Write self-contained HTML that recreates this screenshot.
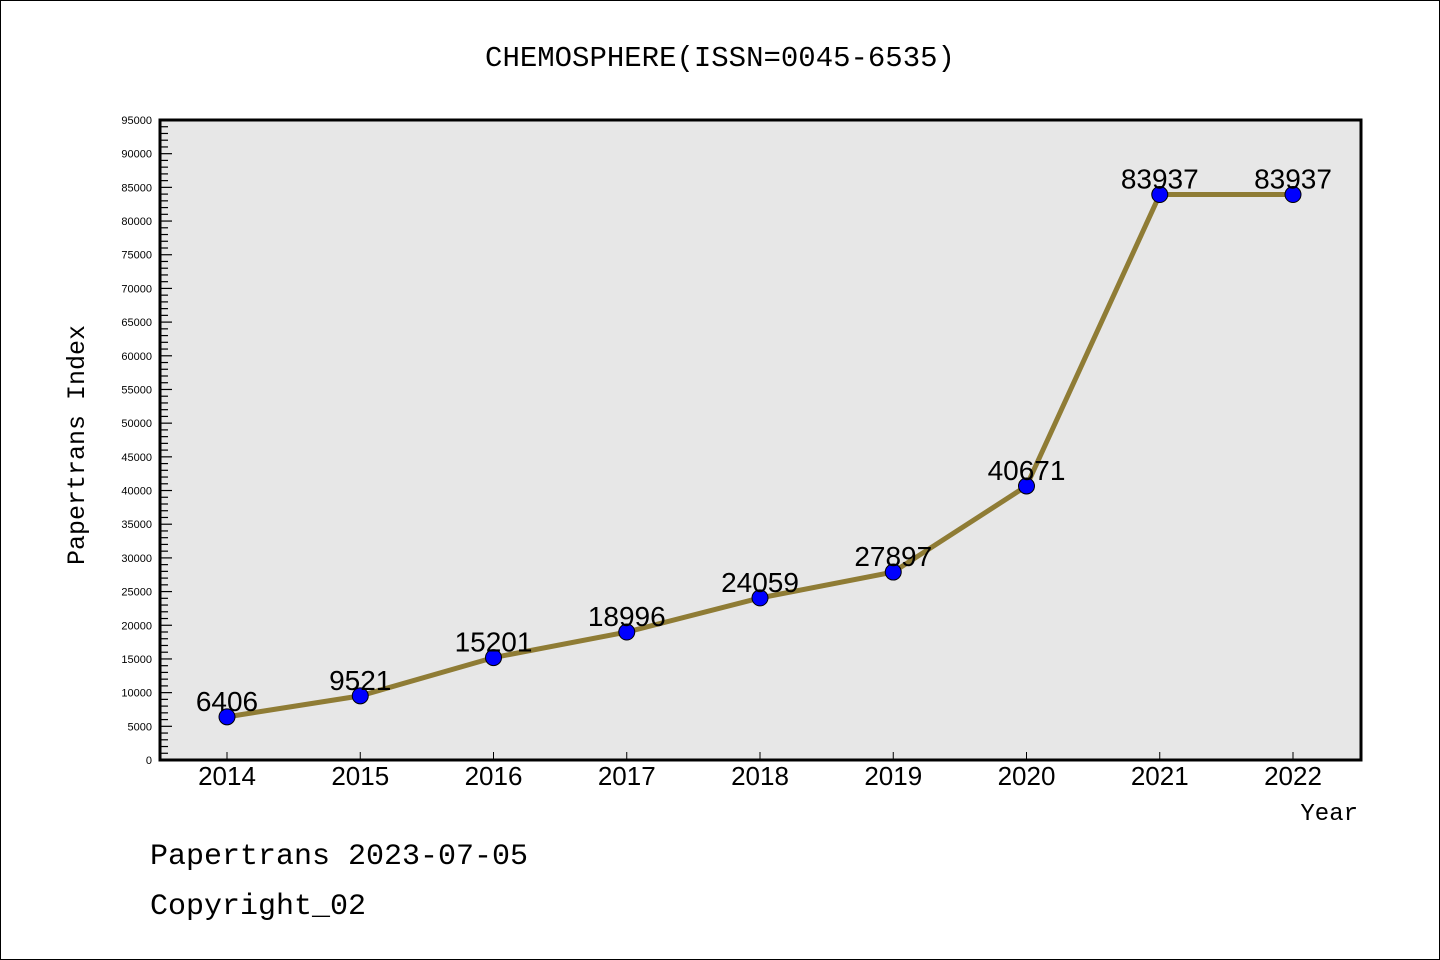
<!DOCTYPE html>
<html><head><meta charset="utf-8"><style>
body{margin:0;background:#fff}
svg{display:block}
text{font-family:"Liberation Sans","DejaVu Sans",sans-serif}
text.mono{font-family:"Liberation Mono","DejaVu Sans Mono",monospace}
</style></head><body>
<svg width="1440" height="960">
<rect x="0.5" y="0.5" width="1439" height="959" fill="#fff" stroke="#000"/>
<text class="mono" x="720" y="66" text-anchor="middle" font-size="29">CHEMOSPHERE(ISSN=0045-6535)</text>
<rect x="160" y="120" width="1201" height="640" fill="#e7e7e7"/>
<g id="yaxis"></g>
<g id="xaxis"></g>
<g id="series"></g>
<rect x="160" y="120" width="1201" height="640" fill="none" stroke="#000" stroke-width="3"/>
<text class="mono" x="84" y="445" transform="rotate(-90 84 445)" text-anchor="middle" font-size="25">Papertrans Index</text>
<text class="mono" x="1358" y="820" text-anchor="end" font-size="24">Year</text>
<text class="mono" x="150" y="864" font-size="30">Papertrans 2023-07-05</text>
<text class="mono" x="150" y="914" font-size="30">Copyright_02</text>
</svg>
<script>
const years=["2014","2015","2016","2017","2018","2019","2020","2021","2022"];
const values=[6406,9521,15201,18996,24059,27897,40671,83937,83937];
const yTicks=[0,5000,10000,15000,20000,25000,30000,35000,40000,45000,50000,55000,60000,65000,70000,75000,80000,85000,90000,95000];
const NS="http://www.w3.org/2000/svg";
function y(v){return 760-v*640/95000;}
function x(i){return 227+i*133.25;}
function mk(tag,attrs,parent,txt){const e=document.createElementNS(NS,tag);for(const k in attrs)e.setAttribute(k,attrs[k]);if(txt!==undefined)e.textContent=txt;parent.appendChild(e);return e;}
const ya=document.getElementById('yaxis');
for(let v=0;v<=95000;v+=1000){
 const major=v%5000===0;
 const t=mk('line',{x1:160,x2:major?172:168,y1:y(v),y2:y(v),stroke:'#000','stroke-width':1.2},ya);
 
 
}
yTicks.forEach(v=>{
 const t=mk('text',{x:152,y:y(v)+4,'text-anchor':'end','font-size':11},ya,String(v));
 
 
});
const xa=document.getElementById('xaxis');
years.forEach((yr,i)=>{
 const t=mk('line',{x1:x(i),x2:x(i),y1:752,y2:760,stroke:'#000','stroke-width':1},xa);
 
 
 const l=mk('text',{x:x(i),y:785,'text-anchor':'middle','font-size':26},xa,yr);
 
 
});
const s=document.getElementById('series');
const pl=mk('polyline',{points:values.map((v,i)=>x(i)+','+y(v)).join(' '),fill:'none',stroke:'#8f7c35','stroke-width':5,'stroke-linejoin':'round'},s);


values.forEach((v,i)=>{
 const c=mk('circle',{cx:x(i),cy:y(v),r:8,fill:'#0000ff',stroke:'#000','stroke-width':1},s);
 
 
 const l=mk('text',{x:x(i),y:y(v)-6,'text-anchor':'middle','font-size':28},s,String(v));
 
 
});
</script>
</body></html>
